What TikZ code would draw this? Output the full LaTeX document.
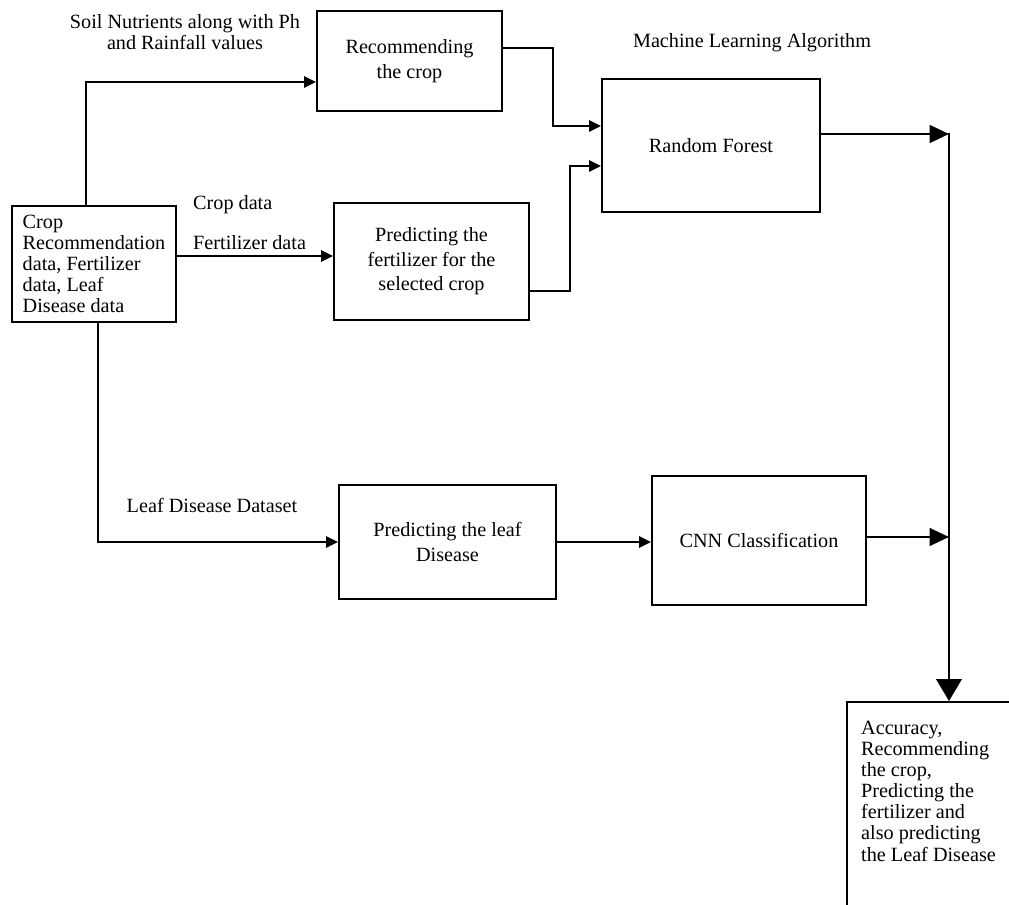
\documentclass[tikz,border=0pt]{standalone}
\usepackage{fontspec}
\setmainfont{Liberation Serif}
\usetikzlibrary{positioning, arrows.meta, calc}

\begin{document}
\begin{tikzpicture}[x=0.02cm, y=-0.02cm,
  every node/.style={font=\fontsize{11.5}{12}\selectfont},
  box/.style={draw, line width=1pt, align=center,
              font=\fontsize{11.5}{14}\selectfont},
  tight/.style={font=\fontsize{11.5}{12}\selectfont},
  arr/.style={-{Triangle[length=6.8pt, width=6.2pt]}, line width=1.5pt},
  bigarr/.style={-{Triangle[length=11pt, width=10pt]}, line width=1.5pt},
  outarr/.style={-{Triangle[length=12.5pt, width=14.5pt]}, line width=1.4pt},
  lbl/.style={align=center},
]
\useasboundingbox (0,0) rectangle (1009,905);
\clip (0,0) rectangle (1009,905);

\node[box, tight, align=left, minimum width=3.28cm, minimum height=2.32cm]
  (src) at (94,264) {Crop\\Recommendation\\data, Fertilizer\\data, Leaf\\Disease data};
\node[box, minimum width=3.7cm, minimum height=2cm]
  (rec) at (409.5,61) {Recommending\\the crop};
\node[box, minimum width=4.36cm, minimum height=2.66cm]
  (rf) at (711,145.5) {Random Forest};
\node[box, minimum width=3.9cm, minimum height=2.34cm]
  (fert) at (431.5,261.5) {Predicting the\\fertilizer for the\\selected crop};
\node[box, minimum width=4.34cm, minimum height=2.28cm]
  (leaf) at (447.5,542) {Predicting the leaf\\Disease};
\node[box, minimum width=4.28cm, minimum height=2.58cm]
  (cnn) at (759,540.5) {CNN Classification};
\node[box, anchor=north west, minimum width=4cm, minimum height=5cm]
  (res) at (846,701) {};
\node[anchor=north west, align=left] (restxt) at ($(res.north west)+(9,14)$)
  {Accuracy,\\Recommending\\the crop,\\Predicting the\\fertilizer and\\also predicting\\the Leaf Disease};

\node[lbl] (soil) at (185,32) {Soil Nutrients along with Ph\\and Rainfall values};
\node[lbl] (mla) at (752,43) {Machine Learning Algorithm};
\node[anchor=west] (cropd) at (187,205) {Crop data};
\node[anchor=west] (fertd) at (187,243) {Fertilizer data};
\node[lbl] (leafd) at (212,505) {Leaf Disease Dataset};

% inputs
\draw[arr] ($(src.north)+(-8,0)$) |- ($(rec.west)+(0,21)$);
\draw[arr] ($(src.east)+(0,-8)$) -- ($(fert.west)+(0,-5.5)$);
\draw[arr] ($(src.south)+(4,0)$) |- (leaf.west);

% to the classifiers
\draw[arr] ($(rec.east)+(0,-13)$) -- ++(50,0) |- ($(rf.west)+(0,-19.5)$);
\draw[arr] ($(fert.east)+(0,29.5)$) -- ++(40,0) |- ($(rf.west)+(0,20.5)$);
\draw[arr] (leaf.east) -- (leaf.east -| cnn.west);

% outputs
\coordinate (bus) at (949,134);
\coordinate (cnnout) at ($(cnn.east)+(0,-3.5)$);
\draw[bigarr] ($(rf.east)+(0,-11.5)$) -- (bus);
\draw[bigarr] (cnnout) -- (cnnout -| bus);
\draw[outarr] ([yshift=0.7pt]bus) -- (bus |- res.north);
\end{tikzpicture}
\end{document}
